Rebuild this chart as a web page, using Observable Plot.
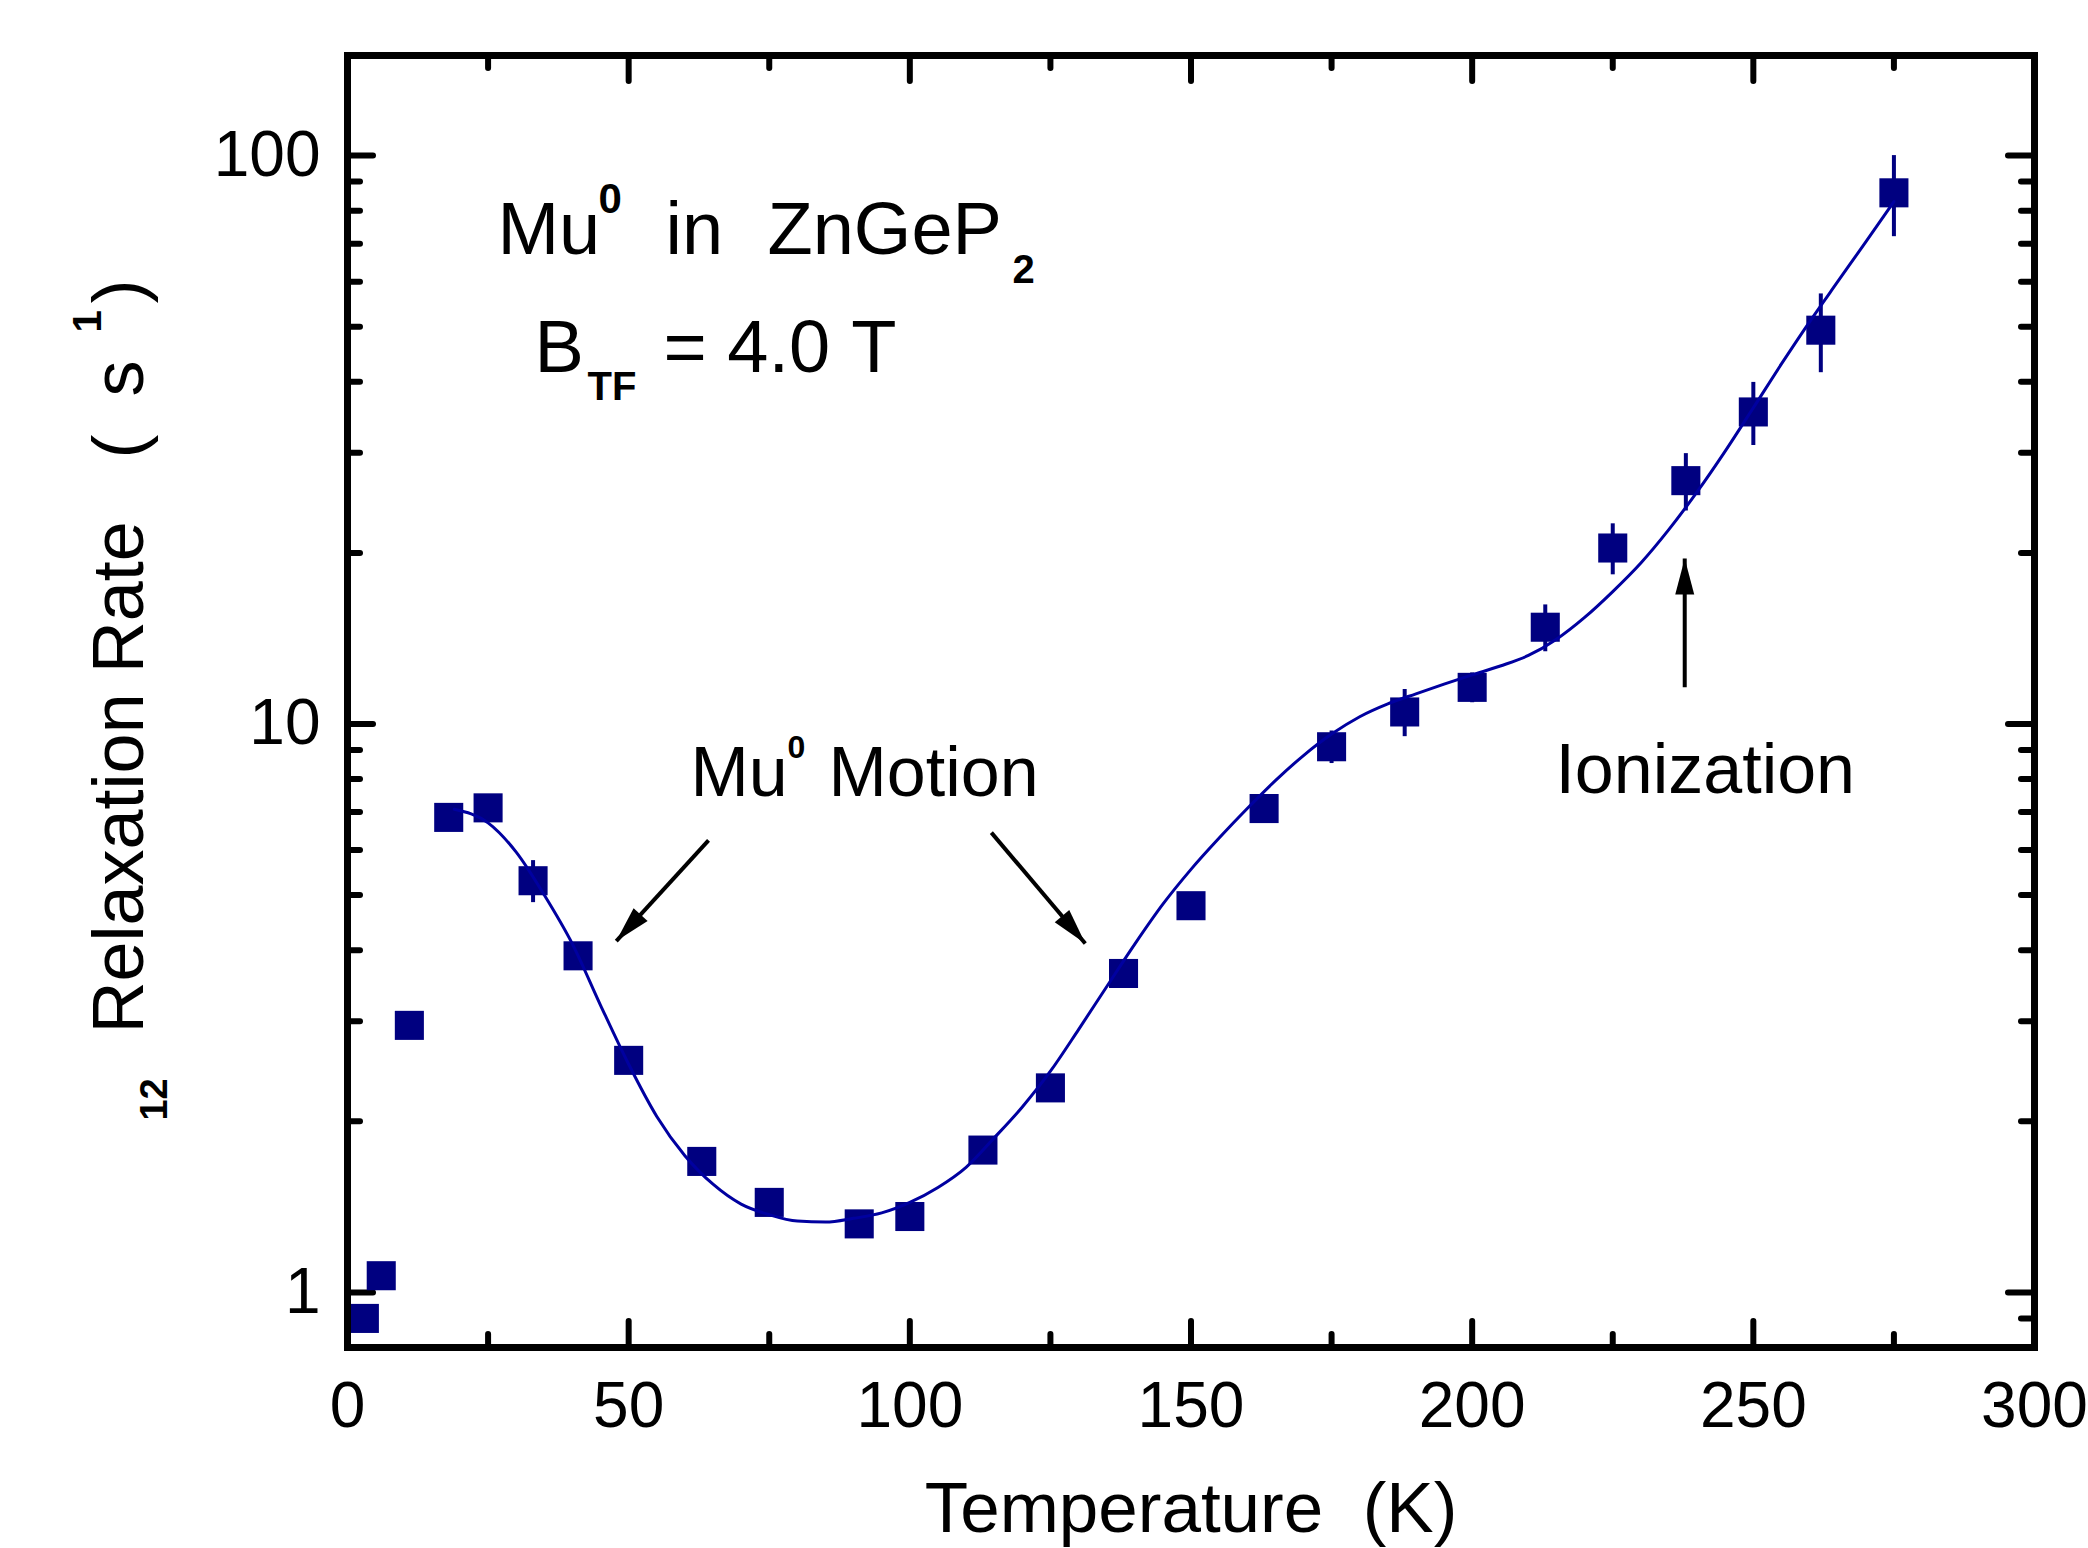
<!DOCTYPE html>
<html>
<head>
<meta charset="utf-8">
<script src="https://cdn.jsdelivr.net/npm/d3@7"></script>
<script src="https://cdn.jsdelivr.net/npm/@observablehq/plot@0.6"></script>
<style>
html, body { margin: 0; padding: 0; background: #ffffff; }
#chart svg { display: block; }
#chart svg text { white-space: pre; }
</style>
</head>
<body>
<div id="chart"></div>
<script>
// ---- data ----
const temperature = [3, 6, 11, 18, 25, 33, 41, 50, 63, 75, 91, 100, 113, 125, 138, 150, 163, 175, 188, 200, 213, 225, 238, 250, 262, 275];
const rate = [0.90, 1.07, 2.95, 6.85, 7.12, 5.30, 3.91, 2.56, 1.70, 1.44, 1.32, 1.36, 1.78, 2.29, 3.64, 4.79, 7.10, 9.12, 10.5, 11.6, 14.8, 20.4, 26.8, 35.4, 49.3, 86.0];
const rateErr = [0.02, 0.03, 0.06, 0.15, 0.2, 0.45, 0.08, 0.05, 0.04, 0.04, 0.04, 0.03, 0.05, 0.06, 0.08, 0.1, 0.15, 0.6, 1.0, 0.7, 1.4, 2.1, 3.1, 4.5, 7.8, 14.0];

const fitT = [19, 25, 30, 35, 40, 45, 50, 55, 60, 65, 70, 75, 80, 85, 90, 95, 100, 105, 110, 115, 120, 125, 130, 135, 140, 145, 150, 155, 160, 165, 170, 175, 180, 185, 190, 195, 200, 205, 210, 215, 220, 225, 230, 235, 240, 245, 250, 255, 260, 265, 270, 275];
const fitRate = [7.08, 6.7, 5.95, 5.0, 4.1, 3.2, 2.52, 2.04, 1.74, 1.55, 1.43, 1.37, 1.335, 1.33, 1.35, 1.38, 1.44, 1.53, 1.66, 1.87, 2.12, 2.45, 2.9, 3.45, 4.1, 4.82, 5.55, 6.3, 7.1, 7.95, 8.8, 9.6, 10.3, 10.85, 11.3, 11.75, 12.2, 12.65, 13.2, 14.1, 15.4, 17.1, 19.2, 22.0, 25.6, 30.2, 36.0, 43.0, 51.0, 60.0, 70.5, 83.0];

const xTicksMajor = [0, 50, 100, 150, 200, 250, 300];
const xTicksMinor = [25, 75, 125, 175, 225, 275];
const yTicksMajor = [1, 10, 100];
const yTicksMinor = [0.9, 2, 3, 4, 5, 6, 7, 8, 9, 20, 30, 40, 50, 60, 70, 80, 90];

// arrows (data coordinates: temperature, rate)
const arrowStartT = [64.2, 114.5, 237.8];
const arrowStartR = [6.24, 6.44, 11.6];
const arrowEndT = [47.8, 131.2, 237.8];
const arrowEndR = [4.15, 4.11, 19.55];

// text annotations (data coordinates)
const normalText = [
  {text: "Mu", x: 26.67, y: 67.0, size: 74, rotate: 0},
  {text: "in", x: 56.55, y: 67.0, size: 74, rotate: 0},
  {text: "ZnGeP", x: 74.69, y: 67.0, size: 74, rotate: 0},
  {text: "B", x: 33.25, y: 41.7, size: 74, rotate: 0},
  {text: "= 4.0", x: 56.19, y: 41.7, size: 74, rotate: 0},
  {text: "T", x: 89.6, y: 41.7, size: 74, rotate: 0},
  {text: "Mu", x: 61.0, y: 7.457, size: 70, rotate: 0},
  {text: "Motion", x: 85.54, y: 7.457, size: 70, rotate: 0},
  {text: "Ionization", x: 214.8, y: 7.547, size: 70, rotate: 0},
  {text: "Relaxation Rate", x: -36.45, y: 2.854, size: 72, rotate: -90},
  {text: "(", x: -36.45, y: 29.32, size: 72, rotate: -90},
  {text: "s", x: -36.45, y: 37.69, size: 72, rotate: -90},
  {text: ")", x: -36.45, y: 54.93, size: 72, rotate: -90}
];
const boldText = [
  {text: "0", x: 44.64, y: 79.4, size: 42, rotate: 0},
  {text: "2", x: 118.26, y: 59.8, size: 40, rotate: 0},
  {text: "TF", x: 42.68, y: 37.09, size: 40, rotate: 0},
  {text: "0", x: 78.25, y: 8.73, size: 32, rotate: 0},
  {text: "1", x: -43.92, y: 48.86, size: 40, rotate: -90},
  {text: "12", x: -32.01, y: 2.006, size: 38, rotate: -90}
];
const xTitle = [{text: "Temperature  (K)", x: 150, y: 0.3796}];

// ---- layout ----
const W = 2088, H = 1548;
const mL = 347, mR = 54, mT = 55, mB = 201;
const FW = W - mL - mR, FH = H - mT - mB;
const navy = "#000080";
const lineBlue = "#0000a0";
const font = "'Liberation Sans', Arial, Helvetica, sans-serif";

const points = temperature.map((t, i) => ({t, r: rate[i], lo: rate[i] - rateErr[i], hi: rate[i] + rateErr[i]}));
const fit = fitT.map((t, i) => ({t, r: fitRate[i]}));
const arrows = arrowStartT.map((t, i) => ({x1: t, y1: arrowStartR[i], x2: arrowEndT[i], y2: arrowEndR[i]}));

const xDomain = [0, 300], yDomain = [0.8, 150];
const xs = Plot.scale({x: {domain: xDomain, range: [mL, W - mR]}});
const ys = Plot.scale({y: {type: "log", domain: yDomain, range: [H - mB, mT]}});
function headAngle(a) {
  const dx = xs.apply(a.x2) - xs.apply(a.x1);
  const dy = ys.apply(a.y2) - ys.apply(a.y1);
  return Math.atan2(dx, -dy) * 180 / Math.PI;
}
const arrowHead = {
  draw(ctx) {
    ctx.moveTo(0, 0);
    ctx.lineTo(-9.5, 36);
    ctx.lineTo(9.5, 36);
    ctx.closePath();
  }
};

const tickStyle = {stroke: "black", strokeWidth: 6, strokeLinecap: "round"};
const majorLen = 26, minorLen = 13;

const chart = Plot.plot({
  width: W,
  height: H,
  marginLeft: mL,
  marginRight: mR,
  marginTop: mT,
  marginBottom: mB,
  style: {fontFamily: font, background: "#ffffff", color: "black", overflow: "visible"},
  x: {domain: xDomain},
  y: {type: "log", domain: yDomain},
  marks: [
    // inward ticks
    Plot.tickX(xTicksMajor, {x: d => d, insetTop: FH - majorLen, ...tickStyle}),
    Plot.tickX(xTicksMinor, {x: d => d, insetTop: FH - minorLen, ...tickStyle}),
    Plot.tickX(xTicksMajor, {x: d => d, insetBottom: FH - majorLen, ...tickStyle}),
    Plot.tickX(xTicksMinor, {x: d => d, insetBottom: FH - minorLen, ...tickStyle}),
    Plot.tickY(yTicksMajor, {y: d => d, insetRight: FW - majorLen, ...tickStyle}),
    Plot.tickY(yTicksMinor, {y: d => d, insetRight: FW - minorLen, ...tickStyle}),
    Plot.tickY(yTicksMajor, {y: d => d, insetLeft: FW - majorLen, ...tickStyle}),
    Plot.tickY(yTicksMinor, {y: d => d, insetLeft: FW - minorLen, ...tickStyle}),
    // tick labels
    Plot.axisX({ticks: xTicksMajor, tickSize: 0, tickPadding: 34, fontSize: 64, label: null, tickFormat: d => String(d)}),
    Plot.axisY({ticks: yTicksMajor, tickSize: 0, tickPadding: 27, fontSize: 64, label: null, tickFormat: d => String(d)}),
    // error bars and data
    Plot.ruleX(points, {x: "t", y1: "lo", y2: "hi", stroke: navy, strokeWidth: 4}),
    Plot.dot(points, {x: "t", y: "r", symbol: "square", r: 16.4, fill: navy, stroke: "none"}),
    // fit curve
    Plot.line(fit, {x: "t", y: "r", stroke: lineBlue, strokeWidth: 3, curve: "monotone-x"}),
    // arrows
    Plot.link(arrows, {x1: "x1", y1: "y1", x2: "x2", y2: "y2", stroke: "black", strokeWidth: 4}),
    Plot.dot(arrows, {x: "x2", y: "y2", symbol: arrowHead, r: 10, fill: "black", stroke: "none", rotate: headAngle}),
    // annotations
    Plot.text(normalText, {x: "x", y: "y", text: "text", fontSize: "size", rotate: "rotate", textAnchor: "start", lineAnchor: "bottom", fill: "black"}),
    Plot.text(boldText, {x: "x", y: "y", text: "text", fontSize: "size", rotate: "rotate", textAnchor: "start", lineAnchor: "bottom", fontWeight: "bold", fill: "black"}),
    Plot.text(xTitle, {x: "x", y: "y", text: "text", fontSize: 71, textAnchor: "middle", lineAnchor: "bottom", fill: "black"}),
    // frame
    Plot.frame({stroke: "black", strokeWidth: 7})
  ]
});
document.getElementById("chart").appendChild(chart);
</script>
</body>
</html>
